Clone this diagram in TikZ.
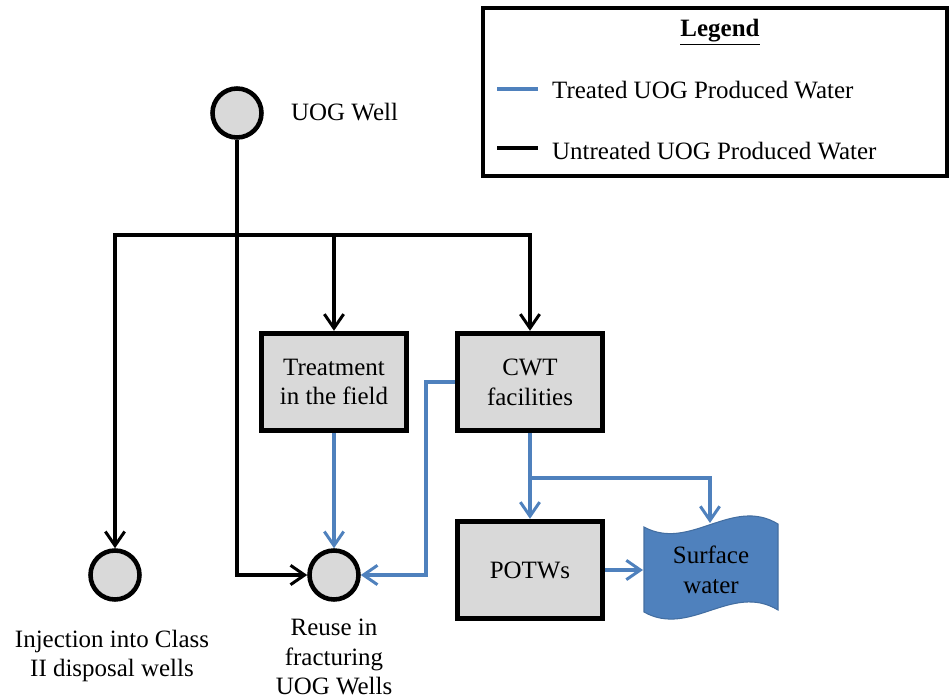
\documentclass[tikz,border=0pt]{standalone}
\usepackage{fontspec}
\setmainfont{Liberation Serif}
\usetikzlibrary{arrows.meta,positioning,calc}
\definecolor{treatblue}{HTML}{4F81BD}
\definecolor{wellgray}{HTML}{D9D9D9}
\tikzset{
    well/.style={circle, draw, line width=2.6pt, fill=wellgray, inner sep=0pt, minimum size=0.98cm},
    facility/.style={rectangle, draw, line width=2.8pt, fill=wellgray, align=center,
        minimum width=2.9cm, minimum height=1.95cm},
    untreated/.style={draw=black, line width=1.9pt},
    treated/.style={draw=treatblue, line width=1.9pt},
    flow/.style={-{Straight Barb[length=8pt,width=11pt,line width=1.7pt]}}
}
\begin{document}
\begin{tikzpicture}[x=0.02cm, y=-0.02cm,
        every node/.style={font=\fontsize{14.2pt}{17pt}\selectfont\rmfamily}]
        \useasboundingbox (0,0) rectangle (951,700);
        % Legend
        \draw [line width=2.3pt] (483,8) rectangle (947,176);
        \node (legtitle) at (720,32) {\textbf{\underline{Legend}}};
        \draw [treated, line width=2.4pt] (497,89) -- (538,89);
        \draw [untreated, line width=2.4pt] (497,148) -- (538,148);
        \node [anchor=west] (legtreated) at (546,90) {Treated UOG Produced Water};
        \node [anchor=west] (leguntreated) at (546,151) {Untreated UOG Produced Water};
        % Wells and facilities
        \node [well] (well) at (237,113) {};
        \node [anchor=west] (welllabel) at (285,112) {UOG Well};
        \node [facility] (treat) at (334,382) {Treatment\\in the field};
        \node [facility] (cwt) at (530,382) {CWT\\facilities};
        \node [facility] (potws) at (530,570) {POTWs};
        \node [well] (inject) at (115,575) {};
        \node [well] (reuse) at (334,575) {};
        % Surface water
        \draw [fill=treatblue, draw=treatblue!85!black, line width=0.6pt]
            (644,527) .. controls (690,552) and (732,496) .. (778,524)
            -- (778,610) .. controls (732,582) and (690,638) .. (644,612) -- cycle;
        \node [align=center] (surf) at (711,570) {Surface\\water};
        \coordinate (surftop) at (710,523);
        \coordinate (surfleft) at (643,570);
        % Untreated flows
        \coordinate (bus) at (237,235);
        \draw [untreated, flow] (well) |- (reuse);
        \draw [untreated, flow] (bus) -| (inject);
        \draw [untreated, flow] (bus) -| (treat);
        \draw [untreated, flow] (bus) -| (cwt);
        % Treated flows
        \coordinate (fork) at (530,478);
        \draw [treated, flow] (treat) -- (reuse);
        \draw [treated, flow] (cwt.west) -- ++(-29,0) |- (reuse);
        \draw [treated, flow] (cwt) -- (potws);
        \draw [treated, flow] (fork) -| (surftop);
        \draw [treated, flow] (potws) -- (surfleft);
        % Labels
        \node [align=center] (injectlabel) at (112,656) {Injection into Class\\II disposal wells};
        \node [align=center] (reuselabel) at (334,657) {Reuse in\\fracturing\\UOG Wells};
\end{tikzpicture}
\end{document}
